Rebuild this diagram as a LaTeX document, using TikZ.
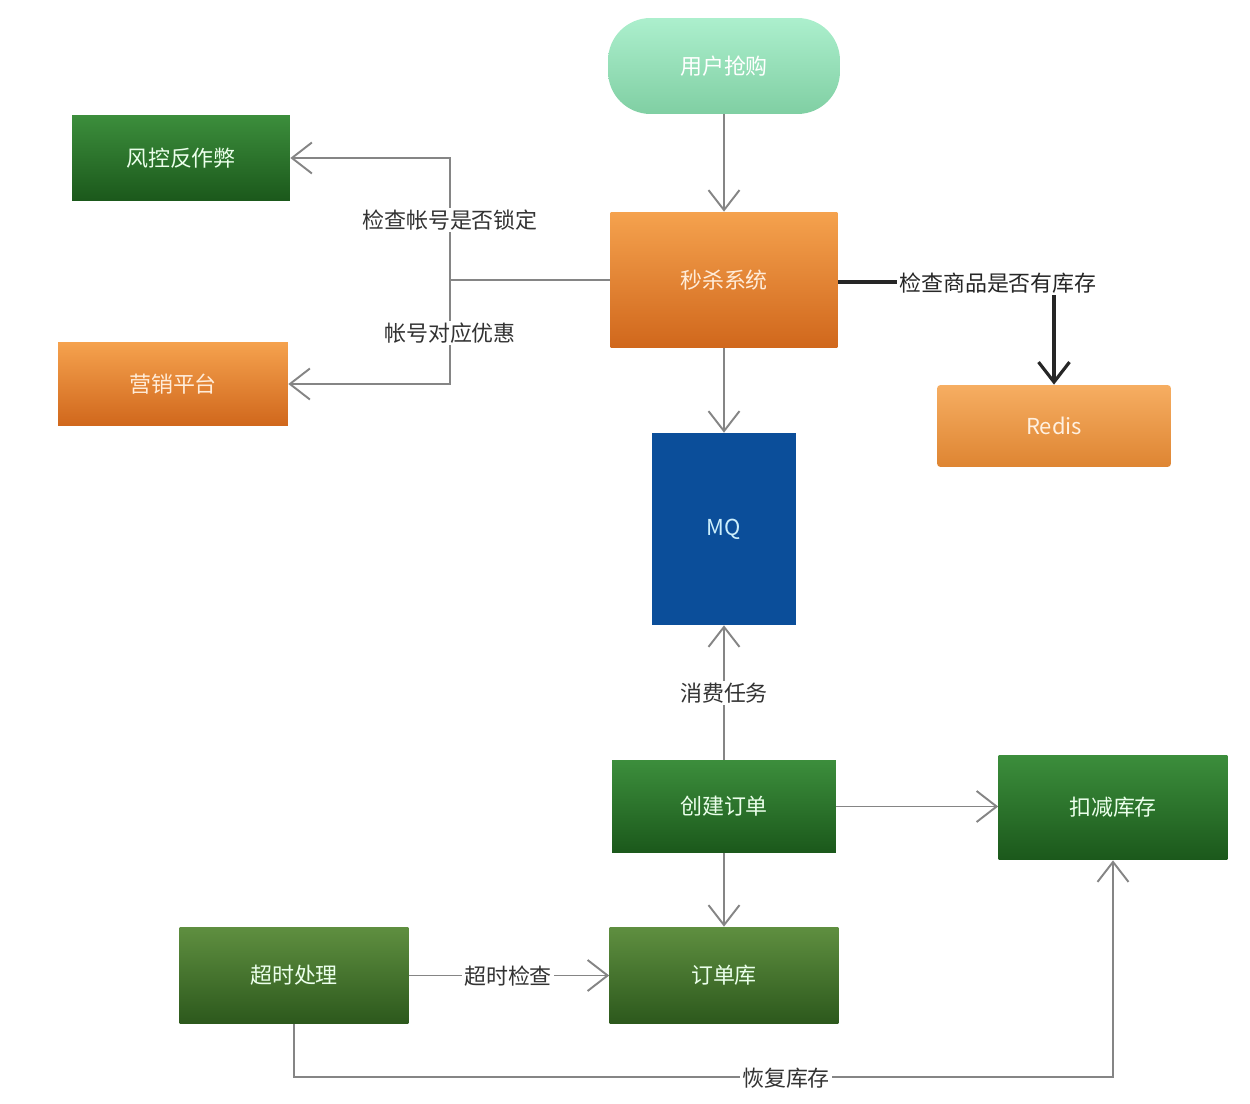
\documentclass[tikz,border=0pt]{standalone}
\usepackage{fontspec}
\setmainfont{Noto Sans CJK SC}
\usetikzlibrary{arrows.meta}
\definecolor{orT}{HTML}{F5A24E}
\definecolor{orB}{HTML}{D0671C}
\definecolor{rdT}{HTML}{F6AE62}
\definecolor{rdB}{HTML}{DE8532}
\definecolor{grT}{HTML}{3C8E3C}
\definecolor{grB}{HTML}{1B581B}
\definecolor{olT}{HTML}{5F8F40}
\definecolor{olB}{HTML}{2C581C}
\definecolor{mnT}{HTML}{ACEFCD}
\definecolor{mnB}{HTML}{80CFA3}
\definecolor{mqC}{HTML}{0B4E9A}
\definecolor{lnC}{HTML}{858585}
\definecolor{lbC}{HTML}{333333}
\tikzset{
  box/.style={rectangle, draw=none, inner sep=0pt, font=\fontsize{12.5pt}{14pt}\selectfont},
  orbox/.style={box, top color=orT, bottom color=orB, text=orange!15!white},
  grbox/.style={box, top color=grT, bottom color=grB, text=green!8!white},
  olbox/.style={box, top color=olT, bottom color=olB, text=green!8!white},
  conn/.style={draw=lnC, line width=1.1pt, -{Straight Barb[length=0.4cm,width=0.62cm]}},
  plain/.style={draw=lnC, line width=1.3pt},
  lbl/.style={fill=white, inner sep=1pt, text=lbC, font=\fontsize{12.5pt}{14pt}\selectfont}
}
\begin{document}
\begin{tikzpicture}[x=0.02cm,y=-0.02cm]
\useasboundingbox (0,0) rectangle (1250,1104);
% nodes
\node[box, top color=mnT, bottom color=mnB, text=white, rounded corners=0.85cm, minimum width=4.64cm, minimum height=1.92cm] (user) at (724,66) {用户抢购};
\node[orbox, minimum width=4.54cm, minimum height=2.72cm] (ms) at (724,280) {秒杀系统};
\node[grbox, minimum width=4.36cm, minimum height=1.72cm] (fk) at (181,158) {风控反作弊};
\node[orbox, minimum width=4.6cm, minimum height=1.68cm] (yx) at (173,384) {营销平台};
\node[box, top color=rdT, bottom color=rdB, text=orange!12!white, rounded corners=2pt, minimum width=4.68cm, minimum height=1.64cm] (redis) at (1054,426) {Redis};
\node[box, fill=mqC, text=cyan!20!white, minimum width=2.88cm, minimum height=3.84cm] (mq) at (724,529) {MQ};
\node[grbox, minimum width=4.48cm, minimum height=1.86cm] (cj) at (724,806.5) {创建订单};
\node[grbox, minimum width=4.58cm, minimum height=2.1cm] (kj) at (1113,807.5) {扣减库存};
\node[olbox, minimum width=4.58cm, minimum height=1.94cm] (dd) at (724,975.5) {订单库};
\node[olbox, minimum width=4.58cm, minimum height=1.94cm] (cs) at (294,975.5) {超时处理};
% junction points
\coordinate (j) at (450,280);
\coordinate (rc) at (1054,282);
\coordinate (b1) at (294,1077);
\coordinate (b2) at (1113,1077);
% connectors
\draw[conn] (user.south) -- (ms.north);
\draw[plain] (ms.west) -- (j);
\draw[conn] (j) |- (fk.east);
\draw[conn] (j) |- (yx.east);
\draw[line width=1.8pt, draw=black!85, -{Straight Barb[length=0.4cm,width=0.62cm]}] (ms.east |- rc) -- (rc) -- (redis.north);
\draw[conn] (ms.south) -- (mq.north);
\draw[conn] (cj.north) -- (mq.south);
\draw[conn] (cj.east) -- (cj.east -| kj.west);
\draw[conn] (cj.south) -- (dd.north);
\draw[conn] (cs.east) -- (dd.west);
\draw[conn] (cs.south) -- (b1) -- (b2) -- (kj.south);
% labels
\node[lbl] (l1) at (450,220) {检查帐号是否锁定};
\node[lbl] (l2) at (450,333) {帐号对应优惠};
\node[lbl, text=black!85] (l3) at (998,283) {检查商品是否有库存};
\node[lbl] (l4) at (724,693) {消费任务};
\node[lbl] (l5) at (508,976) {超时检查};
\node[lbl] (l6) at (786,1078) {恢复库存};
\end{tikzpicture}
\end{document}
